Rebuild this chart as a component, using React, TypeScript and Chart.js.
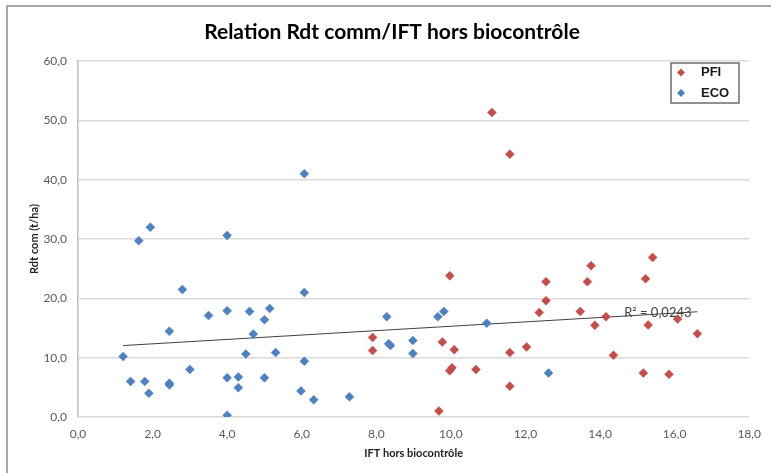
import React, { useEffect, useRef } from "react";
import { Chart, registerables } from "chart.js";

Chart.register(...registerables);

const TITLE = "Relation Rdt comm/IFT hors biocontrôle";
const X_TITLE = "IFT hors biocontrôle";
const Y_TITLE = "Rdt com (t/ha)";
const R2_LABEL = "R² = 0,0243";
const SERIES_NAMES = ["PFI", "ECO"];

const pfiX = [7.9, 7.9, 9.68, 9.77, 9.97, 10.09, 10.03, 9.97, 10.67, 11.1, 11.58, 11.58, 11.58, 12.03, 12.37, 12.55, 12.55, 13.47, 13.66, 13.76, 13.86, 14.16, 14.36, 15.16, 15.22, 15.29, 15.41, 15.85, 16.08, 16.61];
const pfiY = [13.4, 11.2, 1.0, 12.65, 23.8, 11.35, 8.3, 7.8, 8.0, 51.3, 44.3, 10.85, 5.2, 11.8, 17.6, 19.6, 22.8, 17.8, 22.8, 25.5, 15.45, 16.9, 10.4, 7.4, 23.3, 15.5, 26.9, 7.2, 16.5, 14.05];

const ecoX = [1.21, 1.41, 1.63, 1.79, 1.9, 1.94, 2.45, 2.45, 2.45, 2.8, 3.0, 3.5, 4.0, 4.0, 4.0, 4.0, 4.3, 4.3, 4.5, 4.6, 4.7, 5.0, 5.0, 5.14, 5.3, 5.98, 6.07, 6.07, 6.07, 6.32, 7.28, 8.28, 8.33, 8.38, 8.98, 8.98, 9.65, 9.81, 10.96, 12.62];
const ecoY = [10.2, 6.0, 29.7, 6.0, 4.0, 32.0, 14.45, 5.7, 5.4, 21.5, 8.0, 17.1, 17.9, 30.6, 6.6, 0.3, 6.75, 4.95, 10.6, 17.8, 14.0, 16.4, 6.6, 18.3, 10.85, 4.4, 41.0, 21.0, 9.4, 2.9, 3.4, 16.9, 12.35, 12.05, 12.9, 10.7, 16.9, 17.8, 15.8, 7.4];

const yTicks = [0, 10, 20, 30, 40, 50, 60];
const xTicks = [0, 2, 4, 6, 8, 10, 12, 14, 16, 18];

const PFI_COLOR = "#C0504D";
const ECO_COLOR = "#4F81BD";

const fmt = (v: number) => v.toFixed(1).replace(".", ",");

function regression(xs: number[], ys: number[]) {
  const n = xs.length;
  let sx = 0, sy = 0, sxx = 0, sxy = 0;
  for (let i = 0; i < n; i++) {
    sx += xs[i]; sy += ys[i]; sxx += xs[i] * xs[i]; sxy += xs[i] * ys[i];
  }
  const slope = (n * sxy - sx * sy) / (n * sxx - sx * sx);
  const intercept = (sy - slope * sx) / n;
  return { slope, intercept };
}

const FONT = 'Lato, "Open Sans", sans-serif';

export default function App() {
  const ref = useRef<HTMLCanvasElement | null>(null);

  useEffect(() => {
    document.body.style.margin = "0";
    const canvas = ref.current;
    if (!canvas) return;

    const allX = [...pfiX, ...ecoX];
    const allY = [...pfiY, ...ecoY];
    const { slope, intercept } = regression(allX, allY);
    const minX = Math.min(...allX);
    const maxX = Math.max(...allX);
    const trend = [
      { x: minX, y: intercept + slope * minX },
      { x: maxX, y: intercept + slope * maxX },
    ];

    const overlay = {
      id: "overlay",
      afterDraw(chart: any) {
        const ctx = chart.ctx;
        const area = chart.chartArea;
        ctx.save();
        // frame
        ctx.strokeStyle = "#8c8c8c";
        ctx.lineWidth = 1.5;
        ctx.beginPath();
        ctx.moveTo(7, 473);
        ctx.lineTo(7, 6);
        ctx.lineTo(771, 6);
        ctx.stroke();

        // title
        ctx.fillStyle = "#000";
        ctx.textAlign = "center";
        ctx.textBaseline = "middle";
        ctx.font = `bold 21px ${FONT}`;
        ctx.fillText(TITLE, 392, 32);

        // axis titles
        ctx.font = `bold 11px ${FONT}`;
        ctx.fillStyle = "#222";
        ctx.fillText(X_TITLE, (area.left + area.right) / 2, 453);
        ctx.save();
        ctx.translate(34, (area.top + area.bottom) / 2);
        ctx.rotate(-Math.PI / 2);
        ctx.fillText(Y_TITLE, 0, 0);
        ctx.restore();

        // R2 label
        const xs = chart.scales.x;
        const ys = chart.scales.y;
        ctx.font = `13px ${FONT}`;
        ctx.fillStyle = "#404040";
        ctx.fillText(R2_LABEL, xs.getPixelForValue(15.55), ys.getPixelForValue(17.6));

        // legend
        const lx = 671, ly = 63, lw = 68, lh = 40;
        ctx.fillStyle = "#fff";
        ctx.fillRect(lx, ly, lw, lh);
        ctx.strokeStyle = "#6e6e6e";
        ctx.lineWidth = 1.5;
        ctx.strokeRect(lx, ly, lw, lh);
        const ds = chart.data.datasets;
        for (let i = 0; i < 2; i++) {
          const cy = ly + 9.5 + i * 20.5;
          const cx = lx + 10;
          ctx.fillStyle = ds[i].backgroundColor;
          ctx.beginPath();
          ctx.moveTo(cx, cy - 4);
          ctx.lineTo(cx + 4, cy);
          ctx.lineTo(cx, cy + 4);
          ctx.lineTo(cx - 4, cy);
          ctx.closePath();
          ctx.fill();
          ctx.fillStyle = "#1a1a1a";
          ctx.font = `bold 13px "Liberation Sans", Arial, sans-serif`;
          ctx.textAlign = "left";
          ctx.fillText(ds[i].label, lx + 30, cy);
        }
        ctx.restore();
      },
    };

    const chart = new Chart(canvas, {
      type: "scatter",
      data: {
        datasets: [
          {
            label: SERIES_NAMES[0],
            data: pfiX.map((x, i) => ({ x, y: pfiY[i] })),
            backgroundColor: PFI_COLOR,
            borderColor: PFI_COLOR,
            pointStyle: "rectRot",
            pointRadius: 4.5,
            borderWidth: 0.5,
          },
          {
            label: SERIES_NAMES[1],
            data: ecoX.map((x, i) => ({ x, y: ecoY[i] })),
            backgroundColor: ECO_COLOR,
            borderColor: ECO_COLOR,
            pointStyle: "rectRot",
            pointRadius: 4.5,
            borderWidth: 0.5,
          },
          {
            type: "line",
            label: "trend",
            data: trend,
            borderColor: "#404040",
            borderWidth: 1,
            pointRadius: 0,
            fill: false,
          } as any,
        ],
      },
      options: {
        responsive: false,
        animation: false,
        devicePixelRatio: 1,
        layout: { padding: { left: 0, top: 61, right: 16, bottom: 0 } },
        plugins: { legend: { display: false }, title: { display: false }, tooltip: { enabled: false } },
        scales: {
          x: {
            type: "linear",
            min: 0,
            max: 18,
            afterFit: (s: any) => { s.height = 56; },
            afterBuildTicks: (s: any) => { s.ticks = xTicks.map((v) => ({ value: v })); },
            grid: { display: false, drawTicks: false },
            border: { display: false },
            ticks: {
              padding: 10,
              color: "#595959",
              font: { size: 12, family: FONT },
              callback: (v: any) => fmt(Number(v)),
            },
          },
          y: {
            type: "linear",
            min: 0,
            max: 60,
            afterFit: (s: any) => { s.width = 78; },
            afterBuildTicks: (s: any) => { s.ticks = yTicks.map((v) => ({ value: v })); },
            grid: { color: "#d9d9d9", lineWidth: 1.5, drawTicks: false },
            border: { display: true, color: "#bfbfbf", width: 1.5 },
            ticks: {
              padding: 11,
              color: "#595959",
              font: { size: 12, family: FONT },
              callback: (v: any) => fmt(Number(v)),
            },
          },
        },
      },
      plugins: [overlay],
    });

    return () => chart.destroy();
  }, []);

  return (
    <div style={{ position: "absolute", left: 0, top: 0, width: 771, height: 473, background: "#fff" }}>
      <canvas ref={ref} width={771} height={473} style={{ display: "block" }} />
    </div>
  );
}
